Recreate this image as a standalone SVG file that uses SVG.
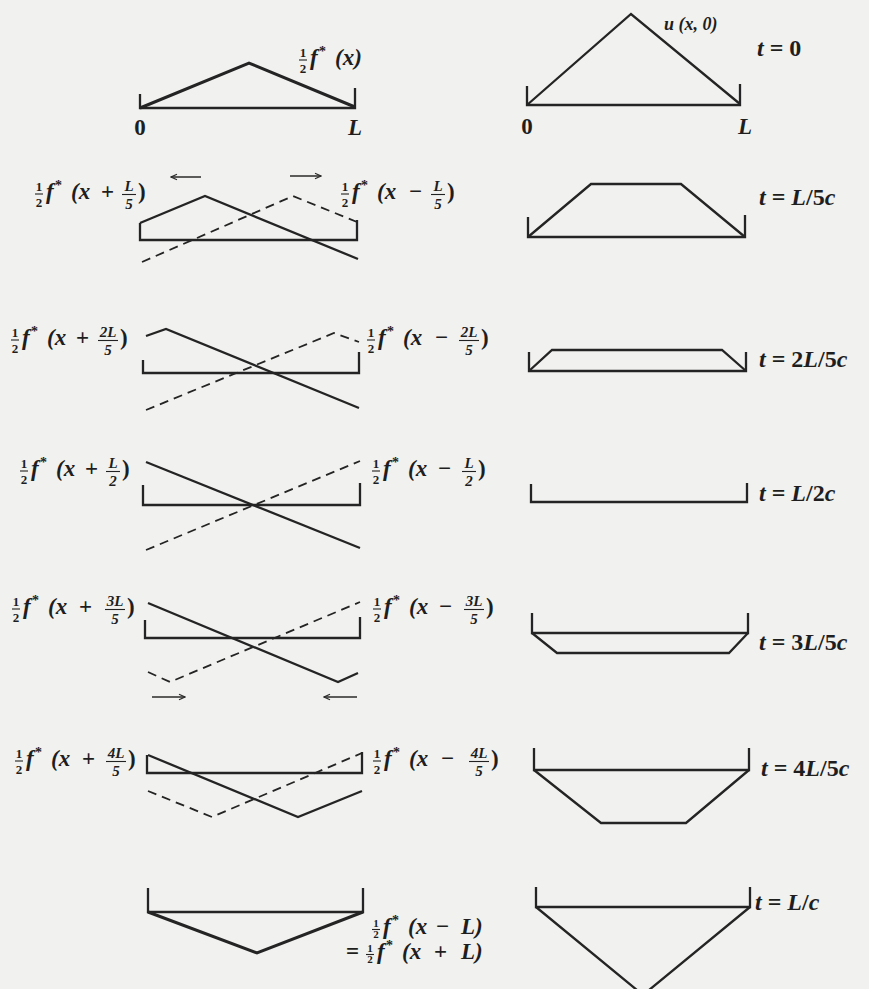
<svg xmlns="http://www.w3.org/2000/svg" width="869" height="989" viewBox="0 0 869 989">
<defs>
<marker id="ah" viewBox="0 0 10 10" refX="9" refY="5" markerWidth="8" markerHeight="8" orient="auto" markerUnits="userSpaceOnUse">
<path d="M1.5,1.5 L9,5 L1.5,8.5" fill="none" stroke="#2a2a2a" stroke-width="1.5"/>
</marker>
<style>
.ln{fill:none;stroke:#242424;stroke-width:2.3;stroke-linejoin:miter;stroke-linecap:butt}
.thk{stroke-width:3}
.ds{stroke-dasharray:9 6;stroke-width:1.8}
.ar{fill:none;stroke:#2a2a2a;stroke-width:1.5;marker-end:url(#ah)}
.fb{stroke:#222;stroke-width:1.1}
text{font-family:"Liberation Serif","DejaVu Serif",serif;fill:#1e1e1e;font-weight:bold}
.it{font-style:italic}
.m{font-size:23px}
.s{font-size:13px;text-anchor:middle}
.s2{font-size:11px;text-anchor:middle}
.sup{font-size:14px}
.fr{font-size:15px;text-anchor:middle;font-style:italic}
.t{font-size:24px}
.u{font-size:18px}
</style>
</defs>
<rect width="869" height="989" fill="#f1f1ef"/>

<!-- LEFT COLUMN -->
<g id="left-t0">
<path class="ln" d="M140,94 V108 H355 V88"/>
<path class="ln thk" d="M140,108 L249,63 L355,107"/>
<text class="m" x="140" y="135" text-anchor="middle">0</text>
<text class="m it" x="355" y="135" text-anchor="middle">L</text>
<g transform="translate(299,65)">
<text class="s" x="4" y="-8">1</text><line class="fb" x1="0" y1="-5" x2="8" y2="-5"/><text class="s" x="4" y="8">2</text>
<text class="m it" x="11" y="0">f</text><text class="sup" x="20" y="-9">*</text>
<text class="m it" x="36" y="0">(x)</text>
</g>
</g>

<g id="left-t1">
<path class="ln" d="M140,223 V240 H357 V220"/>
<path class="ln" d="M140,223 L205,196 L358,259"/>
<path class="ln ds" d="M142,262 L293,196 L357,222"/>
<line class="ar" x1="201" y1="177" x2="171" y2="177"/>
<line class="ar" x1="290" y1="176" x2="321" y2="176"/>
<g transform="translate(35,199)">
<text class="s" x="4" y="-8">1</text><line class="fb" x1="0" y1="-5" x2="8" y2="-5"/><text class="s" x="4" y="8">2</text>
<text class="m it" x="11" y="0">f</text><text class="sup" x="20" y="-9">*</text>
<text class="m it" x="36" y="0">(x</text><text class="m" x="66" y="0">+</text>
<text class="fr" x="94" y="-8">L</text><line class="fb" x1="87" y1="-4.5" x2="101" y2="-4.5"/><text class="fr" x="94" y="10">5</text>
<text class="m" x="103" y="0">)</text>
</g>
<g transform="translate(341,199)">
<text class="s" x="4" y="-8">1</text><line class="fb" x1="0" y1="-5" x2="8" y2="-5"/><text class="s" x="4" y="8">2</text>
<text class="m it" x="11" y="0">f</text><text class="sup" x="20" y="-9">*</text>
<text class="m it" x="36" y="0">(x</text><text class="m" x="68" y="0">−</text>
<text class="fr" x="97" y="-8">L</text><line class="fb" x1="90" y1="-4.5" x2="104" y2="-4.5"/><text class="fr" x="97" y="10">5</text>
<text class="m" x="106" y="0">)</text>
</g>
</g>

<g id="left-t2">
<path class="ln" d="M143,360 V373 H359 V352"/>
<path class="ln" d="M146,336 L166,329 L359,408"/>
<path class="ln ds" d="M146,410 L334,333 L359,342"/>
<g transform="translate(11,345)">
<text class="s" x="4" y="-8">1</text><line class="fb" x1="0" y1="-5" x2="8" y2="-5"/><text class="s" x="4" y="8">2</text>
<text class="m it" x="11" y="0">f</text><text class="sup" x="20" y="-9">*</text>
<text class="m it" x="36" y="0">(x</text><text class="m" x="65" y="0">+</text>
<text class="fr" x="97" y="-8">2L</text><line class="fb" x1="87" y1="-4.5" x2="107" y2="-4.5"/><text class="fr" x="97" y="10">5</text>
<text class="m" x="109" y="0">)</text>
</g>
<g transform="translate(367,345)">
<text class="s" x="4" y="-8">1</text><line class="fb" x1="0" y1="-5" x2="8" y2="-5"/><text class="s" x="4" y="8">2</text>
<text class="m it" x="11" y="0">f</text><text class="sup" x="20" y="-9">*</text>
<text class="m it" x="36" y="0">(x</text><text class="m" x="68" y="0">−</text>
<text class="fr" x="102" y="-8">2L</text><line class="fb" x1="92" y1="-4.5" x2="112" y2="-4.5"/><text class="fr" x="102" y="10">5</text>
<text class="m" x="114" y="0">)</text>
</g>
</g>

<g id="left-t3">
<path class="ln" d="M143,485 V505 H360 V483"/>
<path class="ln" d="M146,462 L360,548"/>
<path class="ln ds" d="M146,550 L360,461"/>
<g transform="translate(20,476)">
<text class="s" x="4" y="-8">1</text><line class="fb" x1="0" y1="-5" x2="8" y2="-5"/><text class="s" x="4" y="8">2</text>
<text class="m it" x="11" y="0">f</text><text class="sup" x="20" y="-9">*</text>
<text class="m it" x="36" y="0">(x</text><text class="m" x="65" y="0">+</text>
<text class="fr" x="93" y="-8">L</text><line class="fb" x1="86" y1="-4.5" x2="100" y2="-4.5"/><text class="fr" x="93" y="10">2</text>
<text class="m" x="102" y="0">)</text>
</g>
<g transform="translate(372,476)">
<text class="s" x="4" y="-8">1</text><line class="fb" x1="0" y1="-5" x2="8" y2="-5"/><text class="s" x="4" y="8">2</text>
<text class="m it" x="11" y="0">f</text><text class="sup" x="20" y="-9">*</text>
<text class="m it" x="36" y="0">(x</text><text class="m" x="66" y="0">−</text>
<text class="fr" x="97" y="-8">L</text><line class="fb" x1="90" y1="-4.5" x2="104" y2="-4.5"/><text class="fr" x="97" y="10">2</text>
<text class="m" x="106" y="0">)</text>
</g>
</g>

<g id="left-t4">
<path class="ln" d="M145,620 V638 H360 V617"/>
<path class="ln" d="M148,603 L338,682 L358,673"/>
<path class="ln ds" d="M148,672 L170,682 L360,602"/>
<line class="ar" x1="152" y1="697" x2="185" y2="697"/>
<line class="ar" x1="357" y1="697" x2="324" y2="697"/>
<g transform="translate(12,614)">
<text class="s" x="4" y="-8">1</text><line class="fb" x1="0" y1="-5" x2="8" y2="-5"/><text class="s" x="4" y="8">2</text>
<text class="m it" x="11" y="0">f</text><text class="sup" x="20" y="-9">*</text>
<text class="m it" x="36" y="0">(x</text><text class="m" x="67" y="0">+</text>
<text class="fr" x="103" y="-8">3L</text><line class="fb" x1="93" y1="-4.5" x2="113" y2="-4.5"/><text class="fr" x="103" y="10">5</text>
<text class="m" x="115" y="0">)</text>
</g>
<g transform="translate(373,614)">
<text class="s" x="4" y="-8">1</text><line class="fb" x1="0" y1="-5" x2="8" y2="-5"/><text class="s" x="4" y="8">2</text>
<text class="m it" x="11" y="0">f</text><text class="sup" x="20" y="-9">*</text>
<text class="m it" x="36" y="0">(x</text><text class="m" x="66" y="0">−</text>
<text class="fr" x="101" y="-8">3L</text><line class="fb" x1="91" y1="-4.5" x2="111" y2="-4.5"/><text class="fr" x="101" y="10">5</text>
<text class="m" x="113" y="0">)</text>
</g>
</g>

<g id="left-t5">
<path class="ln" d="M147,755 V773 H362 V752"/>
<path class="ln" d="M148,755 L298,817 L362,791"/>
<path class="ln ds" d="M148,791 L212,817 L362,753"/>
<g transform="translate(15,766)">
<text class="s" x="4" y="-8">1</text><line class="fb" x1="0" y1="-5" x2="8" y2="-5"/><text class="s" x="4" y="8">2</text>
<text class="m it" x="11" y="0">f</text><text class="sup" x="20" y="-9">*</text>
<text class="m it" x="36" y="0">(x</text><text class="m" x="67" y="0">+</text>
<text class="fr" x="101" y="-8">4L</text><line class="fb" x1="91" y1="-4.5" x2="111" y2="-4.5"/><text class="fr" x="101" y="10">5</text>
<text class="m" x="113" y="0">)</text>
</g>
<g transform="translate(373,766)">
<text class="s" x="4" y="-8">1</text><line class="fb" x1="0" y1="-5" x2="8" y2="-5"/><text class="s" x="4" y="8">2</text>
<text class="m it" x="11" y="0">f</text><text class="sup" x="20" y="-9">*</text>
<text class="m it" x="36" y="0">(x</text><text class="m" x="68" y="0">−</text>
<text class="fr" x="106" y="-8">4L</text><line class="fb" x1="96" y1="-4.5" x2="116" y2="-4.5"/><text class="fr" x="106" y="10">5</text>
<text class="m" x="118" y="0">)</text>
</g>
</g>

<g id="left-t6">
<path class="ln" d="M148,888 V912 H363 V888"/>
<path class="ln thk" d="M148,912 L257,953 L363,912"/>
<g transform="translate(372,934)">
<text class="s2" x="4" y="-7">1</text><line class="fb" x1="0" y1="-4.5" x2="8" y2="-4.5"/><text class="s2" x="4" y="4">2</text>
<text class="m it" x="11" y="0">f</text><text class="sup" x="20" y="-9">*</text>
<text class="m it" x="36" y="0">(x</text><text class="m" x="64" y="0">−</text>
<text class="m it" x="89" y="0">L)</text>
</g>
<g transform="translate(366,959)">
<text class="m" x="-20" y="0">=</text>
<text class="s2" x="4" y="-7">1</text><line class="fb" x1="0" y1="-4.5" x2="8" y2="-4.5"/><text class="s2" x="4" y="4">2</text>
<text class="m it" x="11" y="0">f</text><text class="sup" x="20" y="-9">*</text>
<text class="m it" x="36" y="0">(x</text><text class="m" x="68" y="0">+</text>
<text class="m it" x="95" y="0">L)</text>
</g>
</g>

<!-- RIGHT COLUMN -->
<g id="right-t0">
<path class="ln" d="M527,86 V105 H740 V84"/>
<path class="ln" d="M527,105 L631,14 L740,104"/>
<text class="u it" x="664" y="30">u (x, 0)</text>
<text class="t" x="757" y="56"><tspan class="it">t</tspan> = 0</text>
<text class="m" x="527" y="134" text-anchor="middle">0</text>
<text class="m it" x="745" y="134" text-anchor="middle">L</text>
</g>
<g id="right-t1">
<path class="ln" d="M528,217 V237 H745 V215"/>
<path class="ln" d="M528,237 L591,184 L681,184 L745,237"/>
<text class="t" x="759" y="205"><tspan class="it">t</tspan> = <tspan class="it">L</tspan>/5<tspan class="it">c</tspan></text>
</g>
<g id="right-t2">
<path class="ln" d="M529,352 V371 H746 V352"/>
<path class="ln" d="M529,371 L552,350 L722,350 L746,371"/>
<text class="t" x="759" y="367"><tspan class="it">t</tspan> = 2<tspan class="it">L</tspan>/5<tspan class="it">c</tspan></text>
</g>
<g id="right-t3">
<path class="ln" d="M531,484 V502 H747 V483"/>
<text class="t" x="759" y="501"><tspan class="it">t</tspan> = <tspan class="it">L</tspan>/2<tspan class="it">c</tspan></text>
</g>
<g id="right-t4">
<path class="ln" d="M532,613 V633 H748 V613"/>
<path class="ln" d="M532,633 L557,653 L729,653 L748,633"/>
<text class="t" x="759" y="650"><tspan class="it">t</tspan> = 3<tspan class="it">L</tspan>/5<tspan class="it">c</tspan></text>
</g>
<g id="right-t5">
<path class="ln" d="M534,748 V770 H749 V748"/>
<path class="ln" d="M534,770 L601,823 L686,823 L749,770"/>
<text class="t" x="761" y="776"><tspan class="it">t</tspan> = 4<tspan class="it">L</tspan>/5<tspan class="it">c</tspan></text>
</g>
<g id="right-t6">
<path class="ln" d="M536,887 V907 H750 V887"/>
<path class="ln" d="M536,907 L643,995 L750,907"/>
<text class="t" x="755" y="910"><tspan class="it">t</tspan> = <tspan class="it">L</tspan>/<tspan class="it">c</tspan></text>
</g>
<g id="connectors"/>
</svg>
